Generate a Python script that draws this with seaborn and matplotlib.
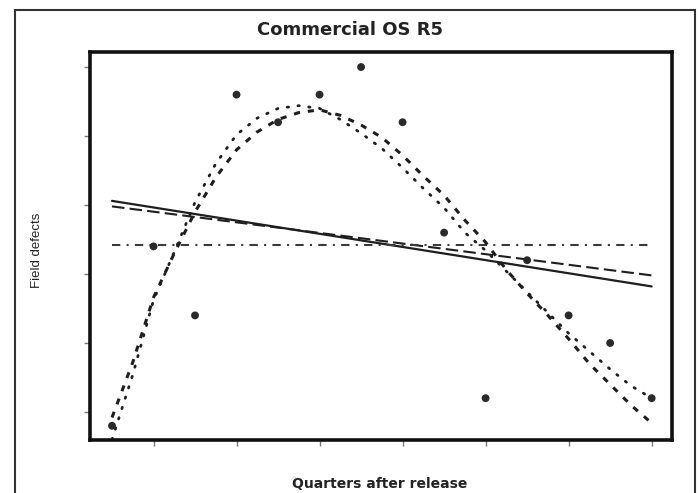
import numpy as np
import pandas as pd
import matplotlib
matplotlib.use('Agg')
import matplotlib.pyplot as plt
import seaborn as sns
from matplotlib.patches import Rectangle

# Observed field defects per quarter
quarters = list(range(1, 15))
defects = [4, 17, 12, 28, 26, 28, 30, 26, 18, 6, 16, 12, 10, 6]

curve_q = [1 + 0.5 * i for i in range(27)]
dotted_fit = [3.0, 7.7, 13.1, 16.6, 20.2, 23.0, 25.1, 26.3, 27.0, 27.2, 27.0, 26.2, 25.2, 24.1,
              22.7, 21.2, 19.8, 18.0, 16.7, 15.2, 13.7, 12.2, 10.7, 9.4, 8.1, 6.9, 6.0]
dashed_fit = [4.6, 8.6, 13.3, 16.5, 19.5, 22.0, 24.0, 25.3, 26.2, 26.7, 26.9, 26.5, 25.8, 24.9,
              23.6, 22.1, 20.7, 18.9, 17.3, 15.3, 13.6, 12.0, 10.3, 8.5, 7.0, 5.5, 4.2]

# Straight fits, endpoints at first and last quarter
line_q = [1, 14]
linear_fit = [20.3, 14.1]
robust_fit = [19.9, 14.9]
mean_level = [17.1, 17.1]

xticks = [2, 4, 6, 8, 10, 12, 14]
yticks = [5, 10, 15, 20, 25, 30]

sns.set_style('ticks')
plt.rcParams['font.family'] = ['Liberation Sans', 'DejaVu Sans']

fig = plt.figure(figsize=(7, 4.93), dpi=100)
ax = fig.add_axes([90 / 700, 1 - 440 / 493, (672 - 90) / 700, (440 - 52) / 493])

ink = '#1e1e1e'

sns.lineplot(x=line_q, y=linear_fit, ax=ax, color=ink, lw=1.6)
sns.lineplot(x=line_q, y=robust_fit, ax=ax, color=ink, lw=1.5, linestyle=(0, (6, 2.5)))
sns.lineplot(x=line_q, y=mean_level, ax=ax, color='#3a3a3a', lw=1.5,
             linestyle=(0, (4, 3, 1, 3)))
sns.lineplot(x=curve_q, y=dotted_fit, ax=ax, color=ink, lw=2.0,
             linestyle=(0, (0.5, 3.4)), dash_capstyle='round', sort=False)
sns.lineplot(x=curve_q, y=dashed_fit, ax=ax, color=ink, lw=2.2,
             linestyle=(0, (2.0, 2.6)), sort=False)
sns.scatterplot(x=quarters, y=defects, ax=ax, color='#2a2a2a', s=32, edgecolor='none', zorder=5)

ax.set_xlim(0.47, 14.49)
ax.set_ylim(2.97, 31.09)
ax.set_xticks(xticks)
ax.set_yticks(yticks)
ax.set_xticklabels([])
ax.set_yticklabels([])
ax.tick_params(length=4.5, width=1, color='#777777', direction='out')
for sp in ax.spines.values():
    sp.set_visible(True)
    sp.set_linewidth(2.6)
    sp.set_color('#111111')

ax.set_xlabel('')
ax.set_ylabel('')
fig.text(350 / 700, 1 - 30 / 493, 'Commercial OS R5', ha='center', va='center',
         fontsize=13, fontweight='bold', color='#222222', family='DejaVu Sans')
fig.text(380 / 700, 1 - 484 / 493, 'Quarters after release', ha='center', va='center',
         fontsize=10, fontweight='bold', color='#222222', family='DejaVu Sans')
fig.text(37 / 700, 1 - 250 / 493, 'Field defects', ha='center', va='center',
         rotation=90, fontsize=9.5, color='#222222')

fig.patches.append(Rectangle((15 / 700, -0.05), (695 - 15) / 700, 1.05 - 10 / 493,
                             transform=fig.transFigure, fill=False, lw=1.5,
                             edgecolor='#333333', zorder=0))

fig.savefig('out.png', dpi=100, facecolor='white')
